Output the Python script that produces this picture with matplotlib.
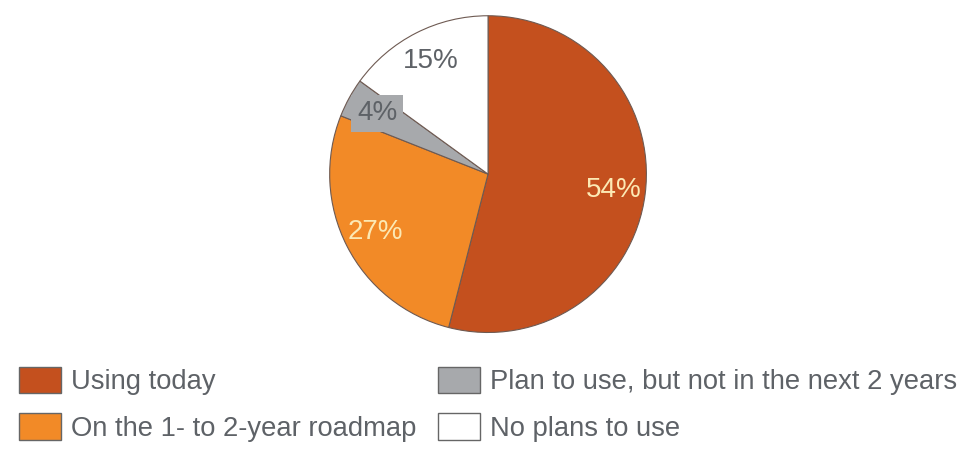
import matplotlib.pyplot as plt

plt.rcParams['font.family'] = ['Liberation Sans', 'DejaVu Sans']

# survey answers, clockwise from 12 o'clock
answers = ['Using today', 'On the 1- to 2-year roadmap',
           'Plan to use, but not in the next 2 years', 'No plans to use']
shares = [54, 27, 4, 15]
colors = ['#C4501E', '#F28A27', '#A7A9AC', '#FFFFFF']
label_colors = ['#FCE9B4', '#FCE9B4', '#5E6267', '#5E6267']

fig = plt.figure(figsize=(9.72, 4.57), dpi=100)
ax = fig.add_axes([0.5021 - 0.1646, 0.619 - 0.350, 0.3292, 0.700])

wedges, texts, pcts = ax.pie(
    shares, colors=colors, startangle=90, counterclock=False,
    autopct=lambda p: '%d%%' % round(p), pctdistance=0.8,
    wedgeprops=dict(edgecolor='#6E5A52', linewidth=0.8),
    textprops=dict(fontsize=20))
for t, c in zip(pcts, label_colors):
    t.set_color(c)
# small slice label sits on a grey patch
pcts[2].set_bbox(dict(facecolor='#A7A9AC', edgecolor='none', pad=4))
ax.set_xlim(-1.01, 1.01)
ax.set_ylim(-1.01, 1.01)
ax.set_aspect('equal')

leg = fig.legend(wedges, answers, ncol=2, frameon=False,
                 loc='upper left', bbox_to_anchor=(19 / 972, 1 - 367 / 457),
                 fontsize=19.7, handlelength=1.54, handleheight=1.1,
                 handletextpad=0.36, columnspacing=0.78, labelspacing=0.66,
                 borderpad=0, borderaxespad=0)
for h in leg.legend_handles:
    h.set_edgecolor('#666666')
    h.set_linewidth(1.0)
for t in leg.get_texts():
    t.set_color('#5E6267')

fig.savefig('out.png', dpi=100)
